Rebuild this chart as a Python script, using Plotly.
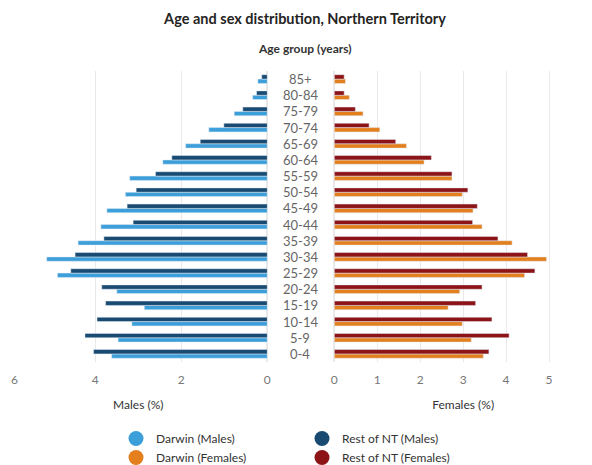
import plotly.graph_objects as go

# ---- data ----
age_groups = ["0-4", "5-9", "10-14", "15-19", "20-24", "25-29", "30-34", "35-39",
              "40-44", "45-49", "50-54", "55-59", "60-64", "65-69", "70-74",
              "75-79", "80-84", "85+"]

darwin_males = [3.62, 3.47, 3.15, 2.86, 3.50, 4.88, 5.13, 4.40, 3.87, 3.73,
                3.30, 3.20, 2.43, 1.90, 1.36, 0.77, 0.34, 0.22]
rest_males = [4.04, 4.24, 3.96, 3.76, 3.85, 4.57, 4.47, 3.80, 3.12, 3.26,
              3.05, 2.60, 2.22, 1.56, 1.01, 0.57, 0.25, 0.13]
darwin_females = [3.47, 3.19, 2.98, 2.65, 2.92, 4.43, 4.94, 4.14, 3.44, 3.23,
                  2.98, 2.74, 2.09, 1.68, 1.06, 0.67, 0.35, 0.26]
rest_females = [3.60, 4.07, 3.67, 3.29, 3.44, 4.67, 4.50, 3.81, 3.22, 3.33,
                3.11, 2.74, 2.26, 1.43, 0.81, 0.49, 0.23, 0.23]

male_ticks = [0, 2, 4, 6]
male_tick_labels = ["0", "2", "4", "6"]
female_ticks = [0, 1, 2, 3, 4, 5, 6]
female_tick_labels = ["0", "1", "2", "3", "4", "5", "6"]

C_DM = "#3d9fd9"
C_RM = "#184a72"
C_DF = "#e3801d"
C_RF = "#8c1316"

FONT = "Lato, 'Segoe UI', sans-serif"
TICKFONT = dict(family=FONT, size=12, color="#777777")
OFF = 8                      # page body margin of the html page
W, H = 592 - OFF, 465 - OFF  # figure size so that it ends at the window edge
T = 71 - OFF                 # plot top (window px 71)
B = H - (362 - OFF)          # plot bottom at window px 362
PH = H - T - B


def px(xw):
    return (xw - OFF) / W


def py(yw):
    return (H - B - (yw - OFF)) / PH


fig = go.Figure()

# bars: left panel (males)
fig.add_trace(go.Bar(y=age_groups, x=darwin_males, orientation="h", marker_color=C_DM,
                     name="Darwin (Males)", showlegend=False, xaxis="x", yaxis="y"))
fig.add_trace(go.Bar(y=age_groups, x=rest_males, orientation="h", marker_color=C_RM,
                     name="Rest of NT (Males)", showlegend=False, xaxis="x", yaxis="y"))
# bars: right panel (females)
fig.add_trace(go.Bar(y=age_groups, x=darwin_females, orientation="h", marker_color=C_DF,
                     name="Darwin (Females)", showlegend=False, xaxis="x2", yaxis="y2"))
fig.add_trace(go.Bar(y=age_groups, x=rest_females, orientation="h", marker_color=C_RF,
                     name="Rest of NT (Females)", showlegend=False, xaxis="x2", yaxis="y2"))

# legend entries (circle markers)
for name, col, leg in [("Darwin (Males)", C_DM, "legend"),
                       ("Darwin (Females)", C_DF, "legend"),
                       ("Rest of NT (Males)", C_RM, "legend2"),
                       ("Rest of NT (Females)", C_RF, "legend2")]:
    fig.add_trace(go.Scatter(x=[None], y=[None], mode="markers", name=name,
                             marker=dict(color=col, size=15, symbol="circle"),
                             legend=leg, xaxis="x2", yaxis="y2"))

# category labels in the middle column
for g in age_groups:
    fig.add_annotation(x=px(300), xref="paper", y=g, yref="y", text=g, showarrow=False,
                       font=dict(family=FONT, size=13, color="#666666"),
                       xanchor="center", yanchor="middle")

fig.add_annotation(x=px(305), xref="paper", y=py(48), yref="paper",
                   text="Age group (years)", showarrow=False,
                   font=dict(family=FONT, size=12, color="#333333", weight="bold"),
                   xanchor="center", yanchor="middle")

# outermost tick labels, nudged inside the window edge
fig.add_annotation(x=male_ticks[-1], xref="x", y=py(379), yref="paper",
                   text=male_tick_labels[-1], showarrow=False, font=TICKFONT,
                   xanchor="center", yanchor="middle", xshift=5)
fig.add_annotation(x=female_ticks[-1], xref="x2", y=py(379), yref="paper",
                   text=female_tick_labels[-1], showarrow=False, font=TICKFONT,
                   xanchor="center", yanchor="middle", xshift=-4)

axis_common = dict(showgrid=True, gridcolor="#e9e9e9", gridwidth=1, zeroline=True,
                   zerolinecolor="#e9e9e9", showline=False, ticks="",
                   ticklabelstandoff=9,
                   tickfont=TICKFONT,
                   automargin=False, fixedrange=True)

fig.update_layout(
    width=W, height=H,
    margin=dict(l=0, r=0, t=T, b=B, autoexpand=False),
    paper_bgcolor="white", plot_bgcolor="white",
    barmode="group", bargap=0.46, bargroupgap=0,
    title=dict(text="Age and sex distribution, Northern Territory",
               x=px(305), xanchor="center", y=1 - (19 - OFF) / H, yanchor="middle",
               font=dict(family=FONT, size=14.5, color="#252423", weight="bold")),
    xaxis=dict(domain=[px(9.3), px(267.3)], range=[6, 0], tickmode="array",
               tickvals=male_ticks, ticktext=male_tick_labels[:-1] + [""],
               title=dict(text="Males (%)", standoff=14,
                          font=dict(family=FONT, size=12, color="#333333")),
               **axis_common),
    xaxis2=dict(domain=[px(334.3), 1.0], range=[0, 6], tickmode="array",
                tickvals=female_ticks, ticktext=female_tick_labels[:-1] + [""],
                title=dict(text="Females (%)", standoff=14,
                           font=dict(family=FONT, size=12, color="#333333")),
                **axis_common),
    yaxis=dict(type="category", categoryorder="array", categoryarray=age_groups,
               range=[-0.5, 17.5], showticklabels=False, showgrid=False,
               zeroline=False, fixedrange=True),
    yaxis2=dict(type="category", categoryorder="array", categoryarray=age_groups,
                range=[-0.5, 17.5], showticklabels=False, showgrid=False,
                zeroline=False, anchor="x2", fixedrange=True),
    legend=dict(x=px(116), xanchor="left", y=py(424), yanchor="top",
                orientation="v", font=dict(family=FONT, size=12, color="#333333"),
                bgcolor="rgba(0,0,0,0)", tracegroupgap=0, itemsizing="trace"),
    legend2=dict(x=px(302), xanchor="left", y=py(424), yanchor="top",
                 orientation="v", font=dict(family=FONT, size=12, color="#333333"),
                 bgcolor="rgba(0,0,0,0)", tracegroupgap=0, itemsizing="trace"),
    showlegend=True,
)

fig.write_html("out.html")
